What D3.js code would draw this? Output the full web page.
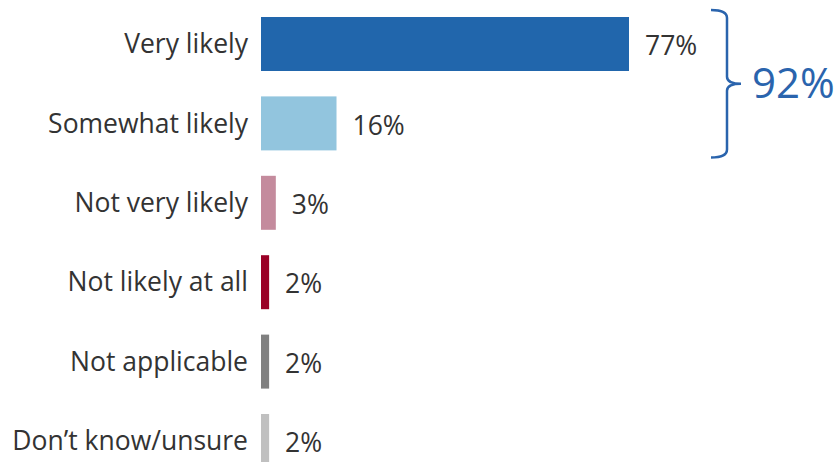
<!DOCTYPE html>
<html>
<head>
<meta charset="utf-8">
<script src="https://cdn.jsdelivr.net/npm/d3@7"></script>
<style>
  body { margin: 0; background: #fff; }
  svg { display: block; }
  text { font-family: "Open Sans", "Noto Sans", sans-serif; }
</style>
</head>
<body>
<svg id="chart" width="838" height="462"></svg>
<script>
var categories = ['Very likely', 'Somewhat likely', 'Not very likely', 'Not likely at all', 'Not applicable', 'Don\u2019t know/unsure'];
var values = [77, 15.8, 3.1, 1.7, 1.7, 1.7];
var valueLabels = ['77%', '16%', '3%', '2%', '2%', '2%'];
var colors = ['#2166ac', '#92c5de', '#c48b9d', '#9a0026', '#808080', '#c0c0c0'];
var bracketGroup = ['Very likely', 'Somewhat likely'];
var bracketLabel = '92%';

var svg = d3.select('#chart');

var x = d3.scaleLinear()
    .domain([0, 77])
    .range([261, 629]);

var y = d3.scaleBand()
    .domain(categories)
    .range([4.3, 480.7])
    .paddingInner(0.32)
    .paddingOuter(0.16);

var rows = svg.selectAll('g.row')
    .data(categories)
    .enter()
    .append('g')
    .attr('class', 'row');

rows.append('rect')
    .attr('x', x(0))
    .attr('y', function (d) { return y(d); })
    .attr('height', y.bandwidth())
    .attr('width', function (d, i) { return x(values[i]) - x(0); })
    .attr('fill', function (d, i) { return colors[i]; });

rows.append('text')
    .attr('x', x(0) - 13)
    .attr('y', function (d) { return y(d) + y.bandwidth() / 2; })
    .attr('dy', '0.35em')
    .attr('text-anchor', 'end')
    .attr('font-size', 26.5)
    .attr('fill', '#333')
    .text(function (d) { return d; });

rows.append('text')
    .attr('x', function (d, i) { return x(values[i]) + 16; })
    .attr('y', function (d) { return y(d) + y.bandwidth() / 2 + 2; })
    .attr('dy', '0.35em')
    .attr('font-size', 26.5)
    .attr('fill', '#333')
    .text(function (d, i) { return valueLabels[i]; });

// brace around the "likely" group
var braceTop = y(bracketGroup[0]) - 7;
var braceBot = y(bracketGroup[1]) + y.bandwidth() + 7;
var braceMid = (braceTop + braceBot) / 2;
var bx = 711, bw = 16, tip = 14;
var path = d3.path();
path.moveTo(bx, braceTop);
path.quadraticCurveTo(bx + bw, braceTop, bx + bw, braceTop + 8);
path.lineTo(bx + bw, braceMid - 7);
path.quadraticCurveTo(bx + bw, braceMid, bx + bw + tip, braceMid);
path.quadraticCurveTo(bx + bw, braceMid, bx + bw, braceMid + 7);
path.lineTo(bx + bw, braceBot - 8);
path.quadraticCurveTo(bx + bw, braceBot, bx, braceBot);

svg.append('path')
    .attr('d', path.toString())
    .attr('fill', 'none')
    .attr('stroke', '#2a64ad')
    .attr('stroke-width', 2.5);

svg.append('text')
    .attr('x', 752)
    .attr('y', braceMid)
    .attr('dy', '0.35em')
    .attr('font-size', 42)
    .attr('fill', '#2a64ad')
    .text(bracketLabel);
</script>
</body>
</html>
